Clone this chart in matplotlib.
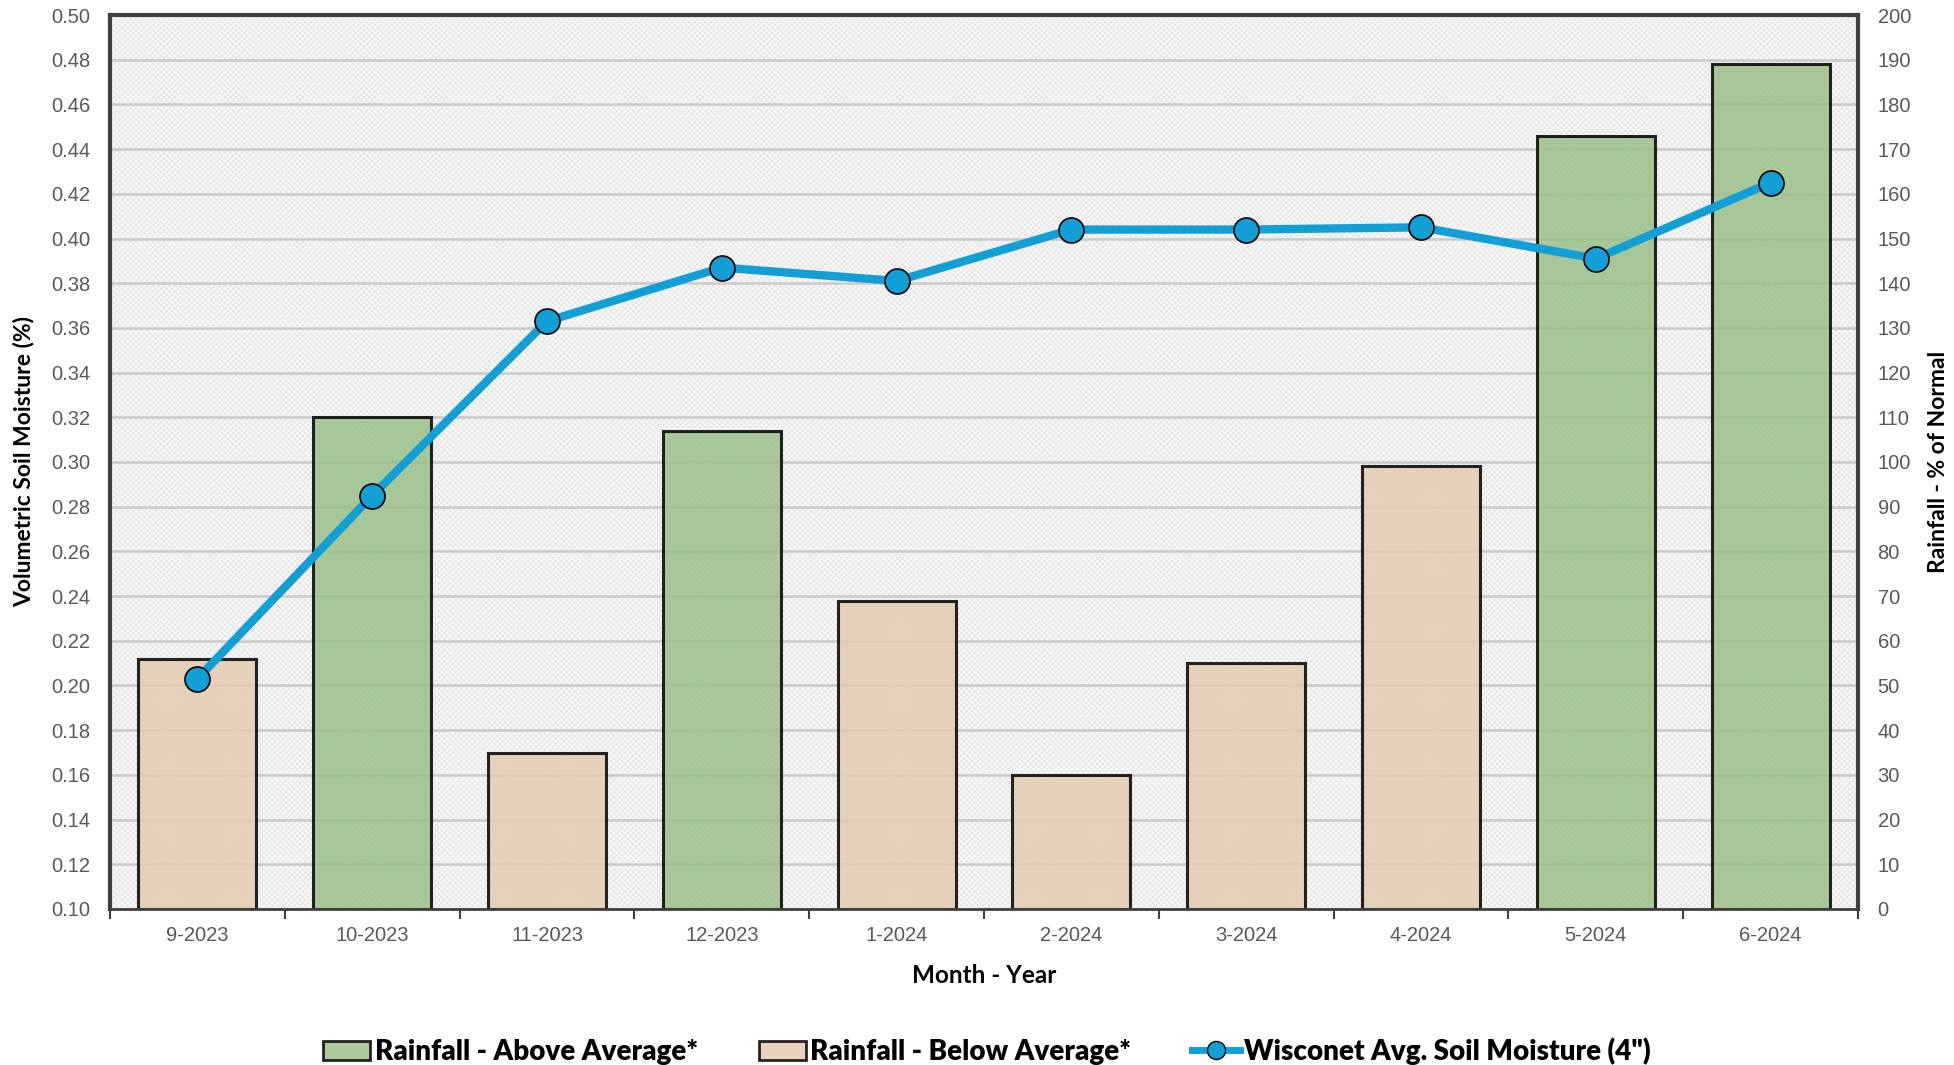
import matplotlib
matplotlib.use("Agg")
import matplotlib.pyplot as plt
from matplotlib.patches import Rectangle, Patch
from matplotlib.lines import Line2D
import numpy as np

# monthly data
months = ["9-2023", "10-2023", "11-2023", "12-2023", "1-2024",
          "2-2024", "3-2024", "4-2024", "5-2024", "6-2024"]
rain_pct = [56, 110, 35, 107, 69, 30, 55, 99, 173, 189]          # % of normal
soil_moist = [0.203, 0.285, 0.363, 0.387, 0.381, 0.404, 0.404, 0.405, 0.391, 0.425]

GREEN = "#9cc08a"
TAN = "#e4cbb0"
BLUE = "#129fd6"
TICK_GRAY = "#595959"
LABEL_FONT = "Lato"
TICK_FONT = "Liberation Sans"

plt.rcParams["hatch.linewidth"] = 0.5

x = np.arange(len(months))
bar_colors = [GREEN if r > 100 else TAN for r in rain_pct]

fig = plt.figure(figsize=(19.54, 10.65), dpi=100)
ax = fig.add_axes([0.0563, 0.1465, 0.8946, 0.8394])
ax2 = ax.twinx()

# hatched light-gray plot background
ax.set_facecolor("#f7f7f7")
ax.add_patch(Rectangle((0, 0), 1, 1, transform=ax.transAxes, facecolor="none",
                       edgecolor="#e2e2e2", hatch="xxxxxx", lw=0, zorder=0))

# rainfall bars on the right-hand scale
ax.bar(x, rain_pct, width=0.675, color=bar_colors, alpha=0.85,
       edgecolor="black", linewidth=2.2, zorder=2)
ax.set_ylim(0, 200)
ax.set_yticks(np.arange(0, 201, 10))
ax.grid(axis="y", color="#cacaca", linewidth=1.8, zorder=1)
ax.set_axisbelow(True)
ax.set_xlim(-0.5, len(months) - 0.5)

# category boundaries carry tick marks, labels sit at centres
ax.set_xticks(np.arange(-0.5, len(months), 1.0))
ax.set_xticklabels([])
ax.set_xticks(x, minor=True)
ax.set_xticklabels(months, minor=True)
ax.tick_params(axis="x", which="major", length=7, width=1.5, color="#404040")
ax.tick_params(axis="x", which="minor", length=0, pad=12)
ax.yaxis.tick_right()
ax.yaxis.set_label_position("right")
ax.tick_params(axis="y", length=0, pad=14)
for lab in ax.get_xticklabels(minor=True) + ax.get_yticklabels():
    lab.set_fontfamily(TICK_FONT)
    lab.set_fontsize(14.5)
    lab.set_color(TICK_GRAY)

ax.set_ylabel("Rainfall - % of Normal", fontsize=16.5, fontweight="bold",
              family=LABEL_FONT, labelpad=12, rotation=90)
ax.set_xlabel("Month - Year", fontsize=17.5, fontweight="bold",
              family=LABEL_FONT, labelpad=14)

for side in ["left", "right", "top"]:
    ax.spines[side].set_color("#404040")
    ax.spines[side].set_linewidth(3)
ax.spines["bottom"].set_color("#404040")
ax.spines["bottom"].set_linewidth(2)

# soil moisture line on the left-hand scale
ax2.plot(x, soil_moist, color=BLUE, linewidth=6, marker="o", markersize=18,
         markerfacecolor=BLUE, markeredgecolor="black", markeredgewidth=1.2,
         zorder=5)
ax2.set_ylim(0.10, 0.50)
ticks_l = np.arange(0.10, 0.501, 0.02)
ax2.set_yticks(ticks_l)
ax2.set_yticklabels([f"{v:.2f}" for v in ticks_l])
ax2.yaxis.tick_left()
ax2.yaxis.set_label_position("left")
ax2.tick_params(axis="y", length=0, pad=14)
for lab in ax2.get_yticklabels():
    lab.set_fontfamily(TICK_FONT)
    lab.set_fontsize(14.5)
    lab.set_color(TICK_GRAY)
ax2.set_ylabel("Volumetric Soil Moisture (%)", fontsize=16.5, fontweight="bold",
               family=LABEL_FONT, labelpad=12)
for sp in ax2.spines.values():
    sp.set_visible(False)

handles = [
    Patch(facecolor=GREEN, edgecolor="black", linewidth=2, alpha=0.85,
          label="Rainfall - Above Average*"),
    Patch(facecolor=TAN, edgecolor="black", linewidth=2, alpha=0.85,
          label="Rainfall - Below Average*"),
    Line2D([0], [0], color=BLUE, linewidth=5, marker="o", markersize=13,
           markerfacecolor=BLUE, markeredgecolor="black",
           label="Wisconet Avg. Soil Moisture (4\")"),
]
fig.legend(handles=handles, loc="center", bbox_to_anchor=(0.505, 0.013), ncol=3,
           frameon=False, handlelength=1.7, handleheight=0.7, handletextpad=0.15,
           columnspacing=2.2, prop={"family": LABEL_FONT, "weight": "heavy", "size": 20})

fig.savefig("out.png", dpi=100)
